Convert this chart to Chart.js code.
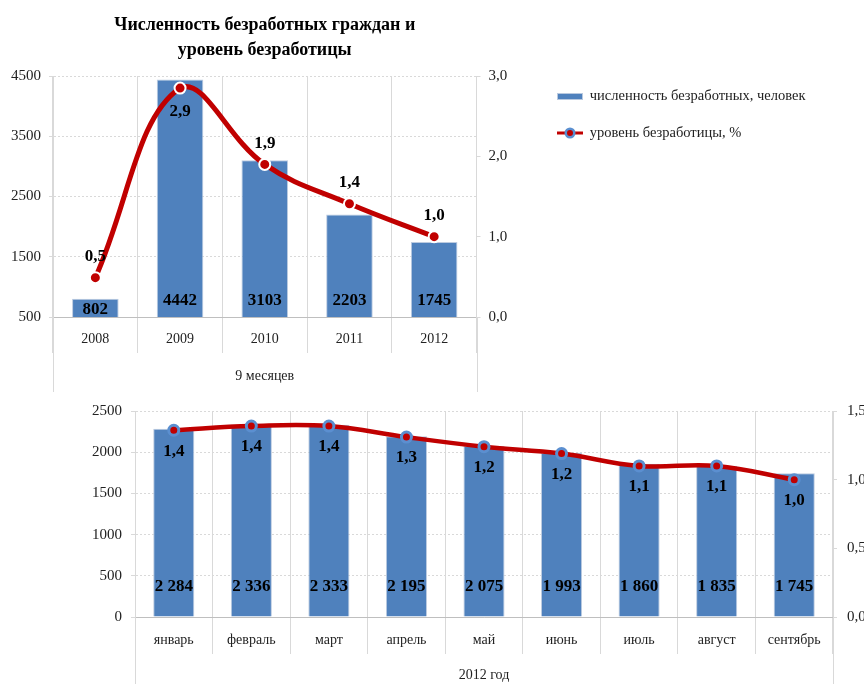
<!DOCTYPE html>
<html lang="ru">
<head>
<meta charset="UTF-8">
<title>Численность безработных граждан и уровень безработицы</title>
<script src="https://cdn.jsdelivr.net/npm/chart.js@4.4.1/dist/chart.umd.min.js"></script>
<style>
  body { margin: 0; background: #fff; }
  canvas { display: block; }
</style>
</head>
<body>
<canvas id="yearChart" width="864" height="392"></canvas>
<canvas id="monthChart" width="864" height="292"></canvas>
<script>
// 9 месяцев по годам
const years = ['2008', '2009', '2010', '2011', '2012'];
const yearUnemployed = [802, 4442, 3103, 2203, 1745];
const yearRate = [0.49, 2.85, 1.9, 1.41, 1.0];

// 2012 год по месяцам
const months = ['январь', 'февраль', 'март', 'апрель', 'май', 'июнь', 'июль', 'август', 'сентябрь'];
const monthUnemployed = [2284, 2336, 2333, 2195, 2075, 1993, 1860, 1835, 1745];
const monthRate = [1.36, 1.39, 1.39, 1.31, 1.24, 1.19, 1.1, 1.1, 1.0];

const FONT = 'Liberation Serif';
const BLUE = '#4F81BD';
const RED = '#C00000';
const GRID = '#d9d9d9';
const TEXT = '#222';

function fmtRate(v) { return Number(v).toFixed(1).replace('.', ','); }
function fmtSpaced(v) { return String(v).replace(/\B(?=(\d{3})+(?!\d))/g, ' '); }

// подписи значений: у основания столбцов и над/под точками линии
function valueLabels(cfg) {
    return {
        id: 'valueLabels',
        afterDatasetsDraw(chart) {
            const ctx = chart.ctx;
            const bottom = chart.chartArea.bottom;
            ctx.save();
            ctx.font = 'bold 17px "' + FONT + '"';
            ctx.fillStyle = '#000';
            ctx.textAlign = 'center';
            ctx.textBaseline = 'middle';
            chart.data.datasets.forEach((ds, di) => {
                const meta = chart.getDatasetMeta(di);
                meta.data.forEach((el, i) => {
                    const v = ds.data[i];
                    if (meta.type === 'bar') {
                        const base = Math.min(el.base, bottom);
                        const h = base - el.y;
                        const y = base - Math.min(cfg.barGap, h / 2 - 2);
                        ctx.fillText(cfg.spaced ? fmtSpaced(v) : String(v), el.x, y);
                    } else {
                        const below = cfg.lineSide[i] === 'below';
                        ctx.fillText(fmtRate(v), el.x, el.y + (below ? cfg.gapBelow : -cfg.gapAbove));
                    }
                });
            });
            ctx.restore();
        }
    };
}

// боковые линии рамки оси категорий, продолженные вниз до края
const axisFrame = {
    id: 'axisFrame',
    beforeDatasetsDraw(chart) {
        const { ctx, chartArea: a, height } = chart;
        const l = Math.round(a.left) + 0.5, r = Math.round(a.right) + 0.5;
        ctx.save();
        ctx.strokeStyle = GRID;
        ctx.lineWidth = 1;
        ctx.beginPath();
        ctx.moveTo(l, a.bottom); ctx.lineTo(l, height);
        ctx.moveTo(r, a.bottom); ctx.lineTo(r, height);
        ctx.stroke();
        ctx.restore();
    }
};

function swatch(kind) {
    const c = document.createElement('canvas');
    c.width = 26; c.height = 14;
    const g = c.getContext('2d');
    if (kind === 'bar') {
        g.fillStyle = BLUE;
        g.fillRect(0.5, 4.5, 25, 6);
        g.strokeStyle = '#b9c9df';
        g.strokeRect(0.5, 4.5, 25, 6);
    } else {
        g.strokeStyle = RED; g.lineWidth = 3;
        g.beginPath(); g.moveTo(0, 7); g.lineTo(26, 7); g.stroke();
        g.fillStyle = '#5b8fd0';
        g.beginPath(); g.arc(13, 7, 5.5, 0, Math.PI * 2); g.fill();
        g.fillStyle = RED;
        g.beginPath(); g.arc(13, 7, 3, 0, Math.PI * 2); g.fill();
    }
    return c;
}
const barSwatch = swatch('bar');
const lineSwatch = swatch('line');

const tickFont = { family: FONT, size: 15 };
const catFont = { family: FONT, size: 14 };

new Chart(document.getElementById('yearChart'), {
    data: {
        labels: years,
        datasets: [{
            type: 'bar',
            label: 'численность безработных, человек',
            data: yearUnemployed,
            yAxisID: 'y',
            order: 1,
            backgroundColor: BLUE,
            borderColor: '#bccbe0',
            borderWidth: 1,
            barPercentage: 0.55,
            categoryPercentage: 1
        }, {
            type: 'line',
            label: 'уровень безработицы, %',
            data: yearRate,
            yAxisID: 'y1',
            order: 0,
            borderColor: RED,
            borderWidth: 5,
            tension: 0.4,
            fill: false,
            pointRadius: 5.5,
            pointBackgroundColor: RED,
            pointBorderColor: '#fff',
            pointBorderWidth: 2
        }]
    },
    options: {
        responsive: false,
        animation: false,
        layout: { padding: { right: 49 } },
        plugins: {
            title: {
                display: true,
                fullSize: false,
                text: ['Численность безработных граждан и', 'уровень безработицы'],
                font: { family: FONT, size: 18, weight: 'bold', lineHeight: 1.39 },
                color: '#000',
                padding: { top: 12.5, bottom: 13.5 }
            },
            legend: {
                position: 'right',
                align: 'start',
                reverse: true,
                maxWidth: 280,
                title: { display: true, text: ' ', font: { size: 10 }, padding: { top: 0, bottom: 54.25 } },
                labels: {
                    usePointStyle: true,
                    pointStyleWidth: 25,
                    padding: 22.5,
                    color: TEXT,
                    font: { family: FONT, size: 14.5 },
                    generateLabels(chart) {
                        const items = Chart.defaults.plugins.legend.labels.generateLabels(chart);
                        items.forEach(it => { it.pointStyle = it.datasetIndex === 0 ? barSwatch : lineSwatch; });
                        return items;
                    }
                }
            },
            tooltip: { enabled: false }
        },
        scales: {
            x: {
                grid: { color: GRID, offset: true, tickLength: 36 },
                border: { color: '#bfbfbf' },
                ticks: { font: catFont, color: TEXT, padding: -22 },
                title: { display: true, text: '9 месяцев', font: catFont, color: TEXT, padding: { top: 0, bottom: 7.6 } },
                afterFit(s) { s.height = 75; }
            },
            y: {
                position: 'left',
                min: 500,
                max: 4500,
                ticks: { stepSize: 1000, font: tickFont, color: TEXT, padding: 8, callback: v => String(v) },
                grid: { color: GRID, tickLength: 4 },
                border: { color: GRID, dash: [2, 2] },
                afterFit(s) { s.width = 53; }
            },
            y1: {
                position: 'right',
                min: 0,
                max: 3,
                ticks: { stepSize: 1, font: tickFont, color: TEXT, padding: 8, callback: v => fmtRate(v) },
                grid: { drawOnChartArea: false, color: GRID, tickLength: 4 },
                border: { color: GRID },
                afterFit(s) { s.width = 58.5; }
            }
        }
    },
    plugins: [axisFrame, valueLabels({
        barGap: 16, spaced: false,
        lineSide: ['above', 'below', 'above', 'above', 'above'],
        gapAbove: 21, gapBelow: 24
    })]
});

new Chart(document.getElementById('monthChart'), {
    data: {
        labels: months,
        datasets: [{
            type: 'bar',
            label: 'численность безработных, человек',
            data: monthUnemployed,
            yAxisID: 'y',
            order: 1,
            backgroundColor: BLUE,
            borderColor: '#bccbe0',
            borderWidth: 1,
            barPercentage: 0.53,
            categoryPercentage: 1
        }, {
            type: 'line',
            label: 'уровень безработицы, %',
            data: monthRate,
            yAxisID: 'y1',
            order: 0,
            borderColor: RED,
            borderWidth: 4.5,
            tension: 0.4,
            fill: false,
            pointRadius: 5,
            pointBackgroundColor: RED,
            pointBorderColor: '#5b8fd0',
            pointBorderWidth: 3
        }]
    },
    options: {
        responsive: false,
        animation: false,
        layout: { padding: { top: 15 } },
        plugins: {
            legend: { display: false },
            tooltip: { enabled: false }
        },
        scales: {
            x: {
                grid: { color: GRID, offset: true, tickLength: 37 },
                border: { color: '#bfbfbf' },
                ticks: { font: catFont, color: TEXT, padding: -22 },
                title: { display: true, text: '2012 год', font: catFont, color: TEXT, padding: { top: 0, bottom: 0 } },
                afterFit(s) { s.height = 67; }
            },
            y: {
                position: 'left',
                min: 0,
                max: 2500,
                ticks: { stepSize: 500, font: tickFont, color: TEXT, padding: 9, callback: v => String(v) },
                grid: { color: GRID, tickLength: 4 },
                border: { color: GRID, dash: [2, 2] },
                afterFit(s) { s.width = 135; }
            },
            y1: {
                position: 'right',
                min: 0,
                max: 1.5,
                ticks: { stepSize: 0.5, font: tickFont, color: TEXT, padding: 10, callback: v => fmtRate(v) },
                grid: { drawOnChartArea: false, color: GRID, tickLength: 4 },
                border: { color: GRID },
                afterFit(s) { s.width = 31; }
            }
        }
    },
    plugins: [axisFrame, valueLabels({
        barGap: 30, spaced: true,
        lineSide: months.map(() => 'below'),
        gapAbove: 21, gapBelow: 21
    })]
});
</script>
</body>
</html>
